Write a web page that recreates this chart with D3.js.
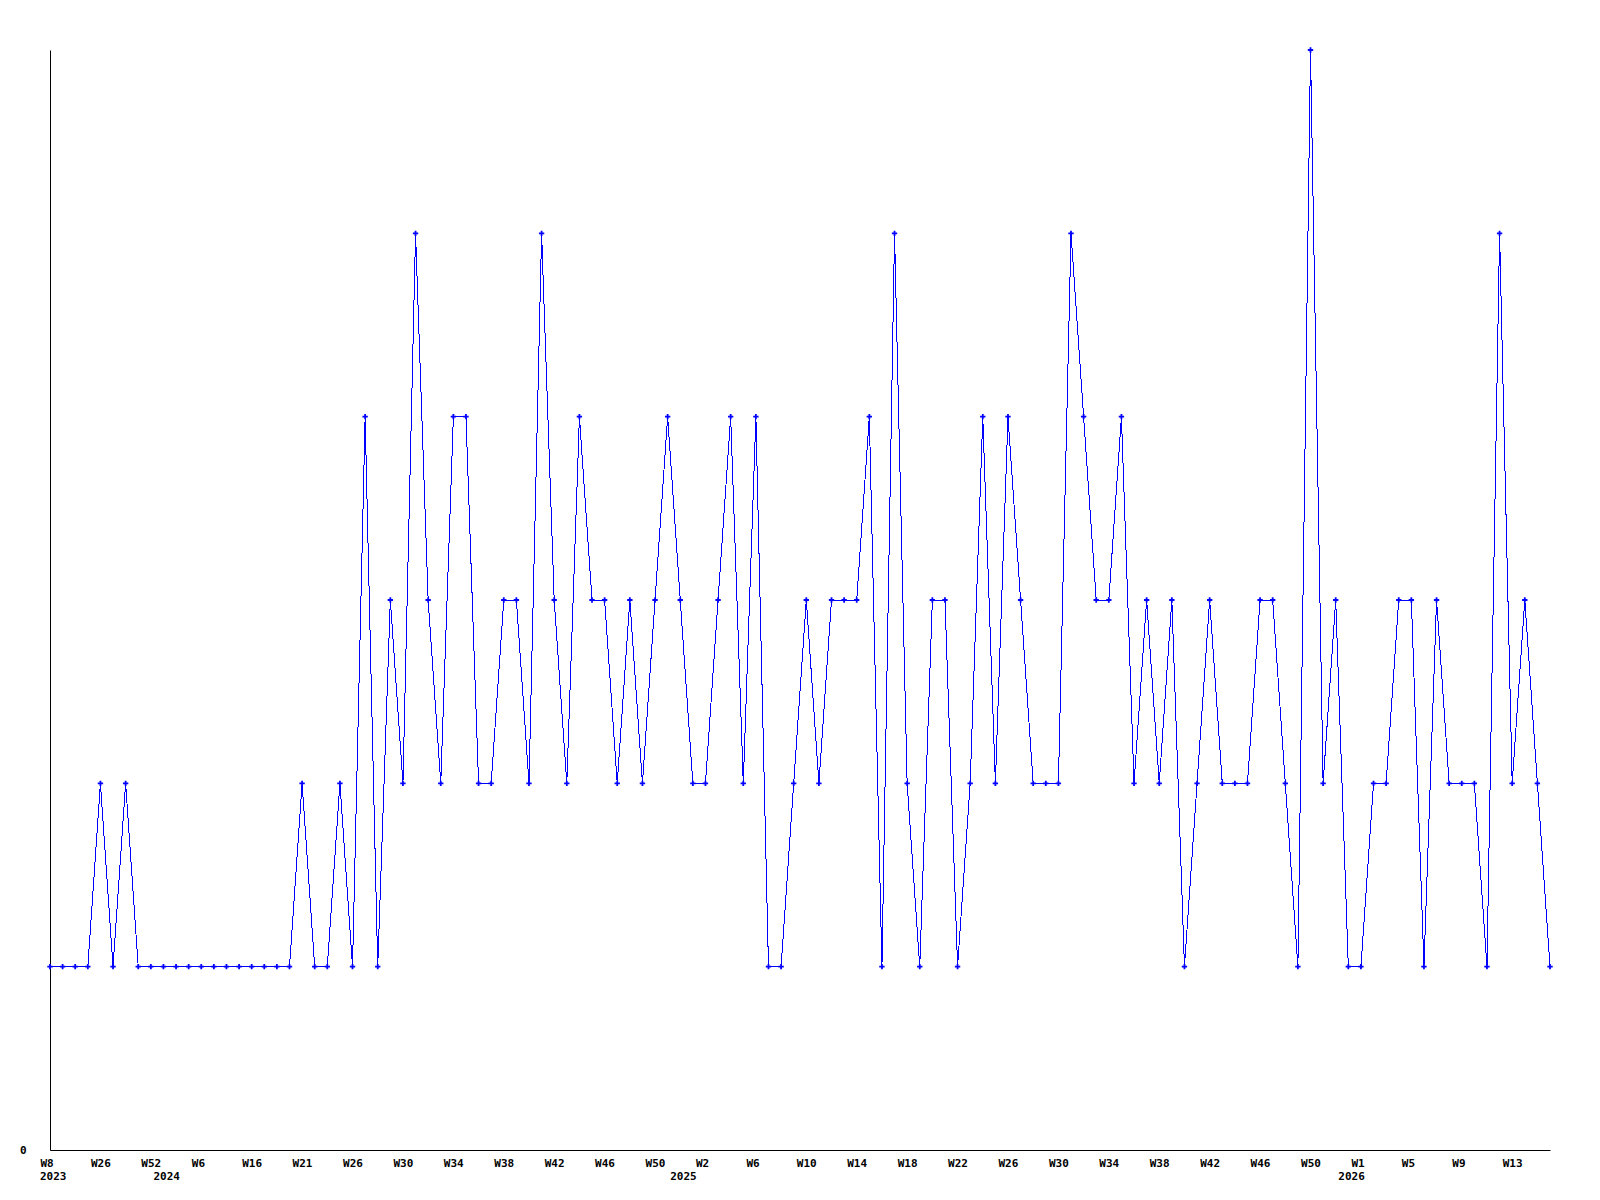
<!DOCTYPE html>
<html>
<head>
<meta charset="utf-8">
<script src="https://cdn.jsdelivr.net/npm/d3@7"></script>
<style>
  body { margin: 0; background: #ffffff; }
  text { font-family: "DejaVu Sans Mono", monospace; font-weight: bold; font-size: 11px; fill: #000; }
</style>
</head>
<body>
<svg id="chart"></svg>
<script>
// weekly counts, one point per week shown on the axis
var values = [1,1,1,1,2,1,2,1,1,1,1,1,1,1,1,1,1,1,1,1,
              2,1,1,2,1,4,1,3,2,5,3,2,4,4,2,2,3,3,2,5,
              3,2,4,3,3,2,3,2,3,4,3,2,2,3,4,2,4,1,1,2,
              3,2,3,3,3,4,1,5,2,1,3,3,1,2,4,2,4,3,2,2,
              2,5,4,3,3,4,2,3,2,3,1,2,3,2,2,2,3,3,2,1,
              6,2,3,1,1,2,2,3,3,1,3,2,2,2,1,5,2,3,2,1];

// week labels, one every 4th point
var weekLabels = ["W8","W26","W52","W6","W16","W21","W26","W30","W34","W38",
                  "W42","W46","W50","W2","W6","W10","W14","W18","W22","W26",
                  "W30","W34","W38","W42","W46","W50","W1","W5","W9","W13"];
var yearLabels = ["2023","2024","2025","2026"];
var yearIndex = [0, 9, 50, 103];
var yTicks = [0];

var width = 1600, height = 1200;
var margin = {top: 50, right: 50, bottom: 50, left: 50};

var svg = d3.select("#chart")
    .attr("width", width)
    .attr("height", height);

var x = d3.scaleLinear()
    .domain([0, values.length - 1])
    .range([margin.left, width - margin.right]);

var y = d3.scaleLinear()
    .domain([0, 6])
    .range([height - margin.bottom, margin.top]);

// y axis (only the zero label)
var yAxis = svg.append("g")
    .attr("transform", "translate(" + margin.left + ",0)")
    .call(d3.axisLeft(y).tickValues(yTicks).tickSize(0)
        .tickFormat(d3.format("d")));
yAxis.select(".domain").attr("stroke", "#000").attr("stroke-width", 1);
yAxis.selectAll("text")
    .attr("font-family", null).attr("font-size", null)
    .attr("text-anchor", "start")
    .attr("x", -30)
    .attr("dy", "0.35em");

// x axis with week labels every 4 points
var tickIdx = weekLabels.map(function(d, i) { return i * 4; });
var xAxis = svg.append("g")
    .attr("transform", "translate(0," + (height - margin.bottom) + ")")
    .call(d3.axisBottom(x)
        .tickValues(tickIdx)
        .tickSize(0)
        .tickFormat(function(d) { return weekLabels[d / 4]; }));
xAxis.select(".domain").attr("stroke", "#000").attr("stroke-width", 1);
xAxis.selectAll("text")
    .attr("font-family", null).attr("font-size", null)
    .attr("text-anchor", "start")
    .attr("x", -10)
    .attr("y", 17)
    .attr("dy", null);

// year labels under the week labels
svg.append("g").selectAll("text")
    .data(yearLabels)
    .enter()
    .append("text")
    .attr("x", function(d, i) { return x(yearIndex[i]) - 10; })
    .attr("y", height - margin.bottom + 30)
    .text(function(d) { return d; });

// the line
var line = d3.line()
    .x(function(d, i) { return x(i); })
    .y(function(d) { return y(d); });

svg.append("path")
    .datum(values)
    .attr("d", line)
    .attr("fill", "none")
    .attr("stroke", "#0000ff")
    .attr("stroke-width", 1)
    .attr("shape-rendering", "crispEdges");

// point markers
var marker = d3.symbol().type(d3.symbolCross).size(16);
svg.append("g").selectAll("path")
    .data(values)
    .enter()
    .append("path")
    .attr("transform", function(d, i) { return "translate(" + x(i) + "," + y(d) + ")"; })
    .attr("d", marker)
    .attr("fill", "#0000ff");
</script>
</body>
</html>
